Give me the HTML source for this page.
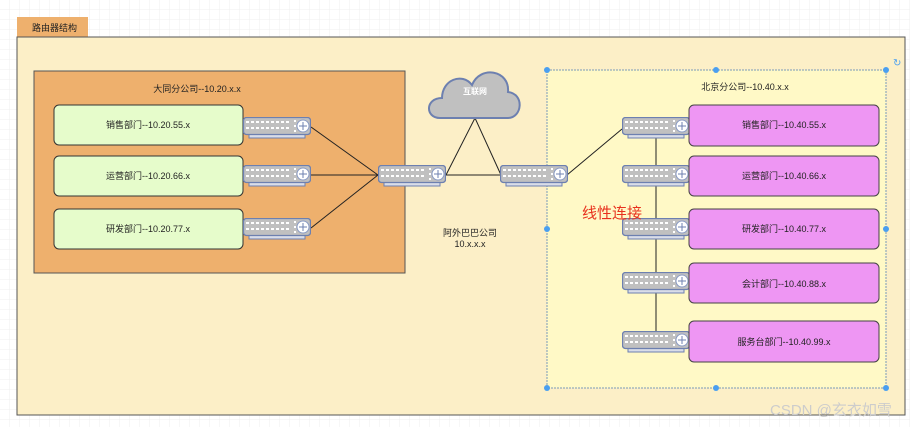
<!DOCTYPE html>
<html><head><meta charset="utf-8"><style>
body{margin:0;width:910px;height:427px;overflow:hidden;background:#fff}
text{font-family:"Liberation Sans","Noto Sans CJK SC",sans-serif}
</style></head><body>
<svg width="910" height="427" xmlns="http://www.w3.org/2000/svg">
<defs>
<pattern id="g" width="10" height="10" patternUnits="userSpaceOnUse"><path d="M10 0V10H0" fill="none" stroke="#efefef" stroke-width="1"/></pattern>
<symbol id="r" viewBox="0 0 68 22" width="68" height="22">
<rect x="6" y="16" width="56" height="5" fill="#d9dde8" stroke="#6d80b0" stroke-width="1"/>
<rect x="0.5" y="0.5" width="67" height="17" rx="3" fill="#c0c0c0" stroke="#6d80b0" stroke-width="1.3"/>
<g stroke="#fff" stroke-width="2" stroke-dasharray="3,2"><line x1="3" y1="5" x2="48" y2="5"/><line x1="3" y1="11" x2="48" y2="11"/></g>
<g fill="#fff"><rect x="51" y="3" width="2" height="2"/><rect x="51" y="8" width="2" height="2"/><rect x="51" y="13" width="2" height="2"/></g>
<circle cx="60" cy="9" r="6" fill="#fff" stroke="#8a9bc4"/>
<path d="M60 5V13M56 9H64" stroke="#6d80b0" stroke-width="1"/>
</symbol>
</defs>
<rect width="910" height="427" fill="url(#g)"/>
<rect x="17" y="17" width="71" height="20" fill="#eeb06d"/>
<text x="32" y="31" font-size="9" fill="#222">路由器结构</text>
<rect x="17" y="37" width="888" height="378" fill="#fcefc7" stroke="#555" stroke-width="1"/>
<rect x="34" y="71" width="371" height="202" fill="#eeb06d" stroke="#555"/>
<text x="197" y="92" font-size="9" text-anchor="middle" fill="#222">大同分公司--10.20.x.x</text>
<g fill="#e6fccb" stroke="#333">
<rect x="54" y="105" width="189" height="40" rx="5"/>
<rect x="54" y="156" width="189" height="40" rx="5"/>
<rect x="54" y="209" width="189" height="40" rx="5"/>
</g>
<g font-size="9" text-anchor="middle" fill="#222">
<text x="148" y="128">销售部门--10.20.55.x</text>
<text x="148" y="179">运营部门--10.20.66.x</text>
<text x="148" y="232">研发部门--10.20.77.x</text>
</g>
<rect x="547" y="70" width="339" height="318" fill="#fff9c6" stroke="#7a9ab8" stroke-dasharray="2,1"/>
<g fill="#4a9ff0"><circle cx="547" cy="70" r="3"/><circle cx="716" cy="70" r="3"/><circle cx="886" cy="70" r="3"/><circle cx="547" cy="229" r="3"/><circle cx="886" cy="229" r="3"/><circle cx="547" cy="388" r="3"/><circle cx="716" cy="388" r="3"/><circle cx="886" cy="388" r="3"/></g>
<text x="893" y="66" font-size="10" fill="#4a9ff0">↻</text>
<text x="745" y="90" font-size="9" text-anchor="middle" fill="#222">北京分公司--10.40.x.x</text>
<g stroke="#222" stroke-width="1" fill="none">
<line x1="311" y1="127" x2="378" y2="175"/>
<line x1="311" y1="175" x2="378" y2="175"/>
<line x1="311" y1="228" x2="378" y2="175"/>
<line x1="446" y1="175" x2="475" y2="118"/>
<line x1="475" y1="118" x2="501" y2="175"/>
<line x1="446" y1="175" x2="501" y2="175"/>
<line x1="567" y1="175" x2="622" y2="129"/>
<line x1="656" y1="137" x2="656" y2="333"/>
</g>
<path d="M440 118 C425 118 425 98 442 98 C442 80 462 72 472 85 C480 65 510 70 508 92 C525 94 522 118 508 118 Z" fill="#c0c0c0" stroke="#6d80b0" stroke-width="2"/>
<text x="475" y="94" font-size="8" text-anchor="middle" fill="#fff" font-weight="bold">互联网</text>
<use href="#r" x="243" y="117"/><use href="#r" x="243" y="165"/><use href="#r" x="243" y="218"/>
<use href="#r" x="378" y="165"/><use href="#r" x="500" y="165"/>
<use href="#r" x="622" y="117"/><use href="#r" x="622" y="165"/><use href="#r" x="622" y="218"/><use href="#r" x="622" y="272"/><use href="#r" x="622" y="331"/>
<text x="470" y="236" font-size="9" text-anchor="middle" fill="#222">阿外巴巴公司</text>
<text x="470" y="247" font-size="9" text-anchor="middle" fill="#222">10.x.x.x</text>
<g fill="#ee96f3" stroke="#444">
<rect x="689" y="105" width="190" height="41" rx="5"/>
<rect x="689" y="156" width="190" height="40" rx="5"/>
<rect x="689" y="209" width="190" height="40" rx="5"/>
<rect x="689" y="263" width="190" height="40" rx="5"/>
<rect x="689" y="321" width="190" height="41" rx="5"/>
</g>
<g font-size="9" text-anchor="middle" fill="#222">
<text x="784" y="128">销售部门--10.40.55.x</text>
<text x="784" y="179">运营部门--10.40.66.x</text>
<text x="784" y="232">研发部门--10.40.77.x</text>
<text x="784" y="287">会计部门--10.40.88.x</text>
<text x="784" y="345">服务台部门--10.40.99.x</text>
</g>
<text x="582" y="218" font-size="15" fill="#e8321e">线性连接</text>
<text x="770" y="415" font-size="15" fill="#ccc">CSDN @玄衣如雪</text>
</svg>
</body></html>
